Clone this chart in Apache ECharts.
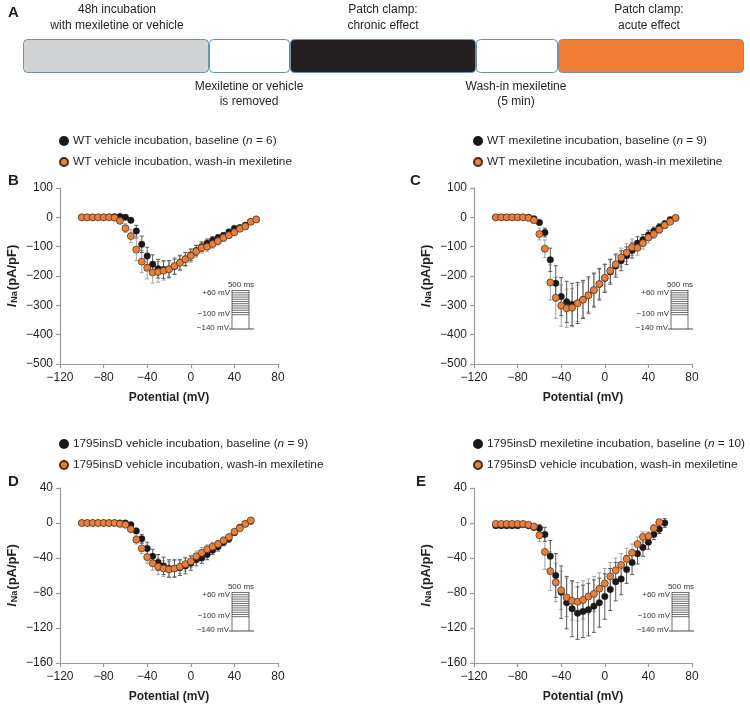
<!DOCTYPE html>
<html>
<head>
<meta charset="utf-8">
<script src="https://cdn.jsdelivr.net/npm/echarts@6/dist/echarts.min.js"></script>
<style>html,body{margin:0;padding:0;background:#fff;}#c{width:750px;height:704px;}</style>
</head>
<body>
<div id="c"></div>
<script>
// ---------- DATA ----------
const xTicks = [-120, -80, -40, 0, 40, 80];

// Panel B: WT vehicle incubation
const potB = [-100,-95,-90,-85,-80,-75,-70,-65,-60,-55,-50,-45,-40,-35,-30,-25,-20,-15,-10,-5,0,5,10,15,20,25,30,35,40,45,50,55,60];
const bBaseName = 'WT vehicle incubation, baseline (n = 6)';
const bBase    = [0,0,0,0,0,1,2,3,0,-10,-47,-92,-132,-160,-175,-178,-176,-168,-155,-142,-128,-113,-100,-88,-78,-70,-62,-50,-38,-35,-27,-15,-7];
const bBaseErr = [0,0,0,0,0,1,1,2,4,8,20,28,30,32,32,30,28,26,24,22,20,18,16,14,12,11,10,9,8,7,6,5,4];
const bWashName = 'WT vehicle incubation, wash-in mexiletine';
const bWash    = [0,0,0,0,0,0,-1,-12,-37,-64,-110,-151,-172,-188,-186,-182,-177,-166,-155,-143,-131,-116,-104,-100,-91,-81,-70,-61,-51,-39,-31,-15,-7];
const bWashErr = [0,0,0,0,0,0,1,6,15,22,38,38,38,36,35,32,30,28,26,24,22,20,18,16,14,13,12,10,9,8,6,5,4];

// Panel C: WT mexiletine incubation
const potC = [-100,-95,-90,-85,-80,-75,-70,-65,-60,-55,-50,-45,-40,-35,-30,-25,-20,-15,-10,-5,0,5,10,15,20,25,30,35,40,45,50,55,60,65];
const cBaseName = 'WT mexiletine incubation, baseline (n = 9)';
const cBase    = [0,0,0,0,0,0,0,-5,-18,-52,-145,-225,-270,-288,-297,-292,-280,-265,-248,-228,-208,-186,-166,-148,-131,-113,-88,-76,-60,-47,-34,-22,-8,-2];
const cBaseErr = [0,0,0,0,0,0,1,3,8,15,40,60,65,70,72,70,65,62,58,54,48,42,38,34,30,26,22,18,16,14,12,10,8,6];
const cWashName = 'WT mexiletine incubation, wash-in mexiletine';
const cWash    = [0,0,0,0,0,0,-2,-10,-57,-107,-222,-274,-301,-310,-308,-293,-281,-266,-248,-227,-206,-182,-160,-137,-120,-102,-104,-88,-69,-57,-42,-27,-15,-2];
const cWashErr = [0,0,0,0,0,0,1,5,20,30,60,70,70,65,65,62,60,56,54,50,46,40,36,32,30,28,25,20,18,15,12,10,8,6];

// Panel D: 1795insD vehicle incubation
const potD = [-100,-95,-90,-85,-80,-75,-70,-65,-60,-55,-50,-45,-40,-35,-30,-25,-20,-15,-10,-5,0,5,10,15,20,25,30,35,40,45,50,55];
const dBaseName = '1795insD vehicle incubation, baseline (n = 9)';
const dBase    = [0,0,0,0,0,0,0,0,0,-2,-9,-18,-29,-38,-45,-49,-52,-52,-51,-49,-46,-42,-40,-36,-31,-27,-22,-18,-11,-5,-1,2];
const dBaseErr = [0,0,0,0,0,0,0,0,1,2,3,5,7,8,9,10,10,10,9,9,8,7,6,6,5,5,4,4,3,3,2,2];
const dWashName = '1795insD vehicle incubation, wash-in mexiletine';
const dWash    = [0,0,0,0,0,0,0,-1,-2,-7,-19,-29,-39,-46,-50,-52,-53,-52,-50,-47,-44,-38,-34,-30,-27,-24,-20,-16,-10,-6,-1,3];
const dWashErr = [0,0,0,0,0,0,0,0,1,2,5,6,7,8,9,9,9,9,8,8,7,6,6,5,5,4,4,3,3,2,2,2];

// Panel E: 1795insD mexiletine incubation
const potEBase = [-100,-95,-90,-85,-80,-75,-70,-65,-60,-55,-50,-45,-40,-35,-30,-25,-20,-15,-10,-5,0,5,10,15,20,25,30,35,40,45,50,55];
const eBaseName = '1795insD mexiletine incubation, baseline (n = 10)';
const eBase    = [-3,-3,-3,-3,-3,-2,-3,-5,-6,-13,-38,-60,-79,-91,-98,-103,-101,-99,-95,-91,-84,-76,-67,-64,-53,-45,-35,-28,-22,-13,-7,0];
const eBaseErr = [1,1,1,1,1,1,1,2,4,8,18,25,30,30,32,30,30,30,30,28,26,24,22,18,16,14,12,10,8,6,5,5];
const potEWash = [-100,-95,-90,-85,-80,-75,-70,-65,-60,-55,-50,-45,-40,-35,-30,-25,-20,-15,-10,-5,0,5,10,15,20,25,30,35,40,45,50];
const eWashName = '1795insD vehicle incubation, wash-in mexiletine';
const eWash    = [-1,-1,-1,-1,-1,-1,-2,-4,-14,-33,-55,-68,-77,-85,-89,-90,-88,-84,-81,-75,-69,-61,-54,-48,-41,-34,-24,-16,-15,-6,1];
const eWashErr = [0,0,0,0,0,0,1,3,7,20,22,22,22,22,22,22,22,20,20,18,17,16,14,13,12,10,8,6,5,4,3];

// ---------- STYLE ----------
const FONT = 'Liberation Sans, Arial, sans-serif';
const TXT = '#231f20';
const AXC = '#9b9b9b';
const ORANGE = '#e4813f';
const ORANGE_BORDER = '#4a2a14';
const BLACK = '#1c1818';

const chart = echarts.init(document.getElementById('c'), null, {renderer: 'canvas'});

const grids = [
  {left: 60, top: 188, width: 218, height: 176},
  {left: 474, top: 188, width: 218, height: 176},
  {left: 60, top: 488, width: 218, height: 175},
  {left: 474, top: 488, width: 218, height: 175}
];

function fmt(v) { return v < 0 ? '\u2212' + Math.abs(v) : String(v); }

const xAxes = grids.map((g, i) => ({
  gridIndex: i, type: 'value', min: -120, max: 80, interval: 40,
  name: 'Potential (mV)', nameLocation: 'middle', nameGap: 28,
  nameTextStyle: {fontFamily: FONT, fontSize: 12, fontWeight: 'bold', color: TXT},
  axisLine: {show: true, onZero: false, lineStyle: {color: AXC, width: 1.2}},
  axisTick: {show: true, length: 4, lineStyle: {color: AXC, width: 1.2}},
  axisLabel: {fontFamily: FONT, fontSize: 12, color: TXT, margin: 8, formatter: fmt},
  splitLine: {show: false}
}));

const yName = '{i|I}{s|Na}{b|(pA/pF)}';
const yRich = {
  i: {fontFamily: FONT, fontSize: 13, fontWeight: 'bold', fontStyle: 'italic', color: TXT, lineHeight: 13, verticalAlign: 'top'},
  s: {fontFamily: FONT, fontSize: 9, fontWeight: 'bold', color: TXT, lineHeight: 9, padding: [9, 1, 0, 1], verticalAlign: 'bottom'},
  b: {fontFamily: FONT, fontSize: 13, fontWeight: 'bold', color: TXT, lineHeight: 13, verticalAlign: 'top'}
};
const yAxes = grids.map((g, i) => ({
  gridIndex: i, type: 'value',
  min: i < 2 ? -500 : -160, max: i < 2 ? 100 : 40, interval: i < 2 ? 100 : 40,
  name: yName, nameLocation: 'middle', nameRotate: 90, nameGap: 41,
  nameTextStyle: {rich: yRich},
  axisLine: {show: true, onZero: false, lineStyle: {color: AXC, width: 1.2}},
  axisTick: {show: true, length: 4, lineStyle: {color: AXC, width: 1.2}},
  axisLabel: {fontFamily: FONT, fontSize: 12, color: TXT, margin: 7, formatter: fmt},
  splitLine: {show: false}
}));

function zip(xs, ys, es) { return xs.map((x, k) => [x, ys[k], es[k]]); }

function errSeries(gi, data, color) {
  return {
    type: 'custom', xAxisIndex: gi, yAxisIndex: gi, z: 2, silent: true,
    encode: {x: 0, y: 1},
    data: data,
    renderItem: function (params, api) {
      const x = api.value(0), y = api.value(1), e = api.value(2);
      if (!e) return null;
      const t = api.coord([x, y + e]);
      const b = api.coord([x, y - e]);
      const w = 2;
      const st = {stroke: color, lineWidth: 1};
      return {type: 'group', children: [
        {type: 'line', shape: {x1: t[0], y1: t[1], x2: b[0], y2: b[1]}, style: st},
        {type: 'line', shape: {x1: t[0] - w, y1: t[1], x2: t[0] + w, y2: t[1]}, style: st},
        {type: 'line', shape: {x1: b[0] - w, y1: b[1], x2: b[0] + w, y2: b[1]}, style: st}
      ]};
    }
  };
}
function dotSeries(gi, name, data, orange) {
  return {
    type: 'scatter', name: name, xAxisIndex: gi, yAxisIndex: gi, z: orange ? 5 : 4,
    symbol: 'circle', symbolSize: orange ? 7 : 6.5,
    data: data.map(d => [d[0], d[1]]),
    itemStyle: orange ? {color: ORANGE, borderColor: ORANGE_BORDER, borderWidth: 0.7, opacity: 1}
                      : {color: BLACK, borderColor: BLACK, borderWidth: 0.4, opacity: 1}
  };
}

const panels = [
  {gi: 0, base: zip(potB, bBase, bBaseErr), wash: zip(potB, bWash, bWashErr), bn: bBaseName, wn: bWashName},
  {gi: 1, base: zip(potC, cBase, cBaseErr), wash: zip(potC, cWash, cWashErr), bn: cBaseName, wn: cWashName},
  {gi: 2, base: zip(potD, dBase, dBaseErr), wash: zip(potD, dWash, dWashErr), bn: dBaseName, wn: dWashName},
  {gi: 3, base: zip(potEBase, eBase, eBaseErr), wash: zip(potEWash, eWash, eWashErr), bn: eBaseName, wn: eWashName}
];

const series = [];
panels.forEach(p => {
  series.push(errSeries(p.gi, p.wash, '#a3a3a3'));
  series.push(errSeries(p.gi, p.base, '#5a5a5a'));
  series.push(dotSeries(p.gi, p.bn, p.base, false));
  series.push(dotSeries(p.gi, p.wn, p.wash, true));
});

function legendFmt(name) {
  const m = name.match(/^(.*\()n( = \d+\))$/);
  if (m) return '{t|' + m[1] + '}{n|n}{t|' + m[2] + '}';
  return '{t|' + name + '}';
}
const legendPos = [[59, 135], [473, 135], [59, 438], [473, 438]];
const legends = panels.map((p, i) => ({
  left: legendPos[i][0], top: legendPos[i][1], orient: 'vertical', padding: 0,
  itemWidth: 8, itemHeight: 8, itemGap: 9, selectedMode: false,
  data: [{name: p.bn, icon: 'circle'}, {name: p.wn, icon: 'circle'}],
  formatter: legendFmt,
  textStyle: {fontFamily: FONT, fontSize: 11.8, color: TXT,
    rich: {t: {fontFamily: FONT, fontSize: 11.8, color: TXT, lineHeight: 14},
           n: {fontFamily: FONT, fontSize: 11.8, color: TXT, fontStyle: 'italic', lineHeight: 14}}}
}));

// ---------- DECORATIONS (panel A timeline, letters, protocol insets) ----------
const graphics = [];
function txt(x, y, s, opt) {
  graphics.push({type: 'text', x: x, y: y, silent: true, style: Object.assign({
    text: s, fontFamily: FONT, fontSize: 12, fill: TXT, align: 'center', verticalAlign: 'middle'}, opt || {})});
}
// Panel A boxes
const boxes = [[23, 209, '#d1d3d4'], [209, 290, '#ffffff'], [290, 476, '#231f20'], [476, 558, '#ffffff'], [558, 744, '#ee7d31']];
boxes.forEach(b => {
  graphics.push({type: 'rect', silent: true, shape: {x: b[0] + 0.5, y: 39.5, width: b[1] - b[0] - 1, height: 33, r: 4},
    style: {fill: b[2], stroke: '#6f8fae', lineWidth: 1}});
});
txt(117, 10, '48h incubation');
txt(117, 26, 'with mexiletine or vehicle');
txt(383, 10, 'Patch clamp:');
txt(383, 26, 'chronic effect');
txt(649, 10, 'Patch clamp:');
txt(649, 26, 'acute effect');
txt(249, 87, 'Mexiletine or vehicle');
txt(249, 102, 'is removed');
txt(516, 87, 'Wash-in mexiletine');
txt(516, 102, '(5 min)');
// Panel letters
const letters = [['A', 8, 13], ['B', 8, 181], ['C', 410, 181], ['D', 8, 482], ['E', 416, 482]];
letters.forEach(l => txt(l[1], l[2], l[0], {fontSize: 15, fontWeight: 'bold', align: 'left'}));
// Voltage protocol insets
function inset(bx, by) {
  const st = {stroke: '#4a4a4a', lineWidth: 0.8};
  const W = 17;
  for (let k = 0; k < 12; k++) {
    const y = by + k * 2.2 + 0.5;
    graphics.push({type: 'line', silent: true, shape: {x1: bx, y1: y, x2: bx + W, y2: y}, style: st});
  }
  graphics.push({type: 'line', silent: true, shape: {x1: bx, y1: by, x2: bx, y2: by + 39}, style: st});
  graphics.push({type: 'line', silent: true, shape: {x1: bx + W, y1: by, x2: bx + W, y2: by + 39}, style: st});
  graphics.push({type: 'line', silent: true, shape: {x1: bx - 3, y1: by + 39, x2: bx + W + 5, y2: by + 39}, style: {stroke: '#4a4a4a', lineWidth: 1}});
  const small = {fontSize: 8, fill: '#333'};
  txt(bx + 9, by - 5, '500 ms', small);
  txt(bx - 2, by + 3, '+60 mV', Object.assign({align: 'right'}, small));
  txt(bx - 2, by + 24, '\u2212100 mV', Object.assign({align: 'right'}, small));
  txt(bx - 3, by + 38, '\u2212140 mV', Object.assign({align: 'right'}, small));
}
inset(232, 290);
inset(671, 290);
inset(232, 592);
inset(672, 592);

chart.setOption({
  animation: false,
  backgroundColor: '#ffffff',
  grid: grids,
  xAxis: xAxes,
  yAxis: yAxes,
  legend: legends,
  series: series,
  graphic: graphics
});
</script>
</body>
</html>
